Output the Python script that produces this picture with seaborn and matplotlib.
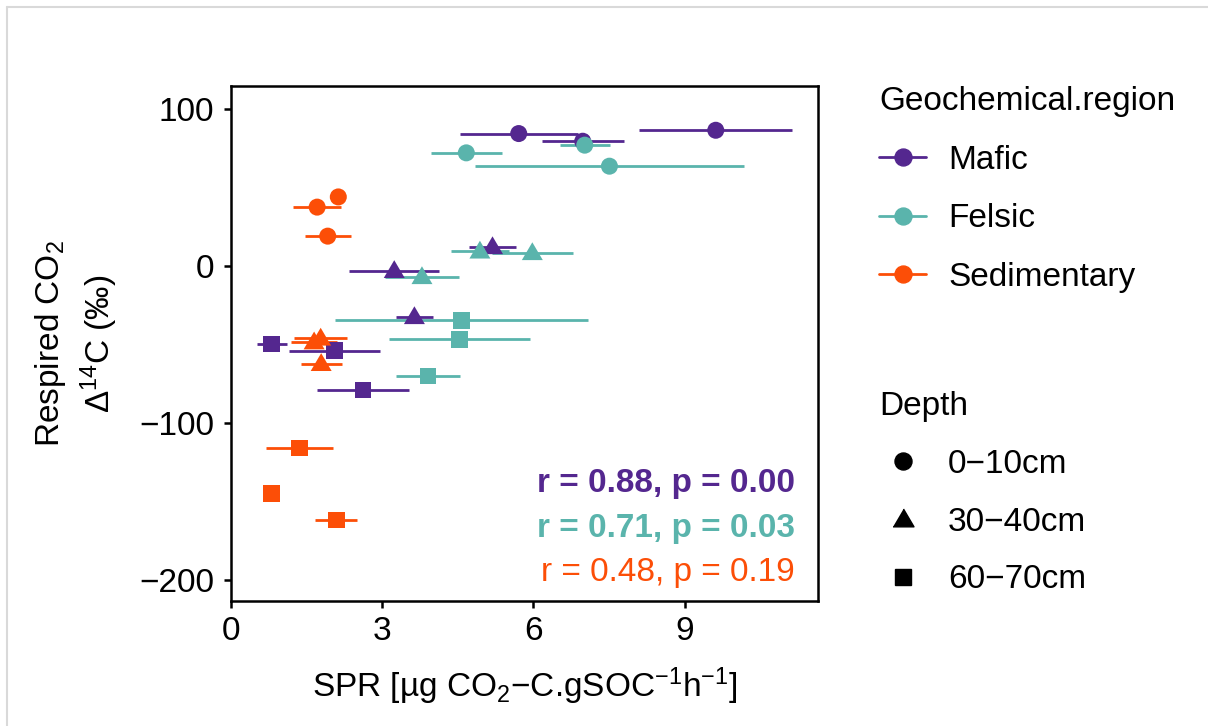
import numpy as np
import pandas as pd
import matplotlib.pyplot as plt
import seaborn as sns
from matplotlib.lines import Line2D

# values
regions = ['Mafic', 'Felsic', 'Sedimentary']
depths = ['0\u221210cm', '30\u221240cm', '60\u221270cm']
region = ['Mafic'] * 9 + ['Felsic'] * 9 + ['Sedimentary'] * 9
depth = ([depths[0]] * 3 + [depths[1]] * 3 + [depths[2]] * 3) * 3
spr = [9.62, 5.71, 6.98, 5.19, 3.24, 3.64, 0.81, 2.05, 2.62,
       7.02, 4.67, 7.51, 5.98, 4.94, 3.79, 4.57, 4.54, 3.91,
       1.71, 2.13, 1.92, 1.65, 1.78, 1.79, 1.36, 0.81, 2.09]
spr_se = [1.52, 1.17, 0.81, 0.46, 0.89, 0.36, 0.30, 0.90, 0.91,
          0.50, 0.71, 2.67, 0.81, 0.58, 0.73, 2.51, 1.40, 0.64,
          0.47, 0.00, 0.46, 0.45, 0.52, 0.41, 0.67, 0.00, 0.42]
d14c = [86.6, 84.5, 79.6, 12.3, -2.9, -32.3, -49.7, -53.9, -79.0,
        77.1, 72.2, 63.7, 8.5, 9.5, -6.8, -34.6, -46.7, -70.1,
        37.6, 44.1, 19.1, -48.4, -46.0, -62.2, -116.0, -144.8, -161.8]
stat_labels = ['r = 0.88, p = 0.00', 'r = 0.71, p = 0.03', 'r = 0.48, p = 0.19']
stat_weights = ['bold', 'bold', 'normal']

df = pd.DataFrame({'region': region, 'depth': depth, 'spr': spr,
                   'se': spr_se, 'd14c': d14c})

pal = {'Mafic': '#54278F', 'Felsic': '#5AB4AC', 'Sedimentary': '#FC4E07'}
tri = [(-1, -0.7), (1, -0.7), (0, 1)]
marks = {depths[0]: 'o', depths[1]: tri, depths[2]: 's'}
sizes = {depths[0]: 150, depths[1]: 228, depths[2]: 144}
fs = 24

sns.set_style('white')
plt.rcParams['font.family'] = ['Liberation Sans', 'DejaVu Sans']
plt.rcParams['text.color'] = 'black'
plt.rcParams['axes.labelcolor'] = 'black'
plt.rcParams['mathtext.fontset'] = 'custom'
plt.rcParams['mathtext.rm'] = 'Liberation Sans'
plt.rcParams['mathtext.it'] = 'Liberation Sans:italic'
plt.rcParams['mathtext.bf'] = 'Liberation Sans:bold'

fig = plt.figure(figsize=(12.08, 7.26), dpi=100)
ax = fig.add_axes([0.1912, 0.1722, 0.4860, 0.7093])

for reg in regions:
    sub = df[df['region'] == reg]
    ax.errorbar(sub['spr'], sub['d14c'], xerr=sub['se'], fmt='none',
                ecolor=pal[reg], elinewidth=2.0, capsize=0, zorder=2)

sns.scatterplot(data=df, x='spr', y='d14c', hue='region', hue_order=regions,
                style='depth', style_order=depths, markers=marks,
                size='depth', sizes=sizes, palette=pal, linewidth=0,
                alpha=1, legend=False, ax=ax, zorder=3)

ax.set_xlim(0, 11.65)
ax.set_ylim(-213.5, 114.8)
ax.set_xticks([0, 3, 6, 9])
ax.set_yticks([-200, -100, 0, 100])
for s in ax.spines.values():
    s.set_color('black')
    s.set_linewidth(1.8)
ax.tick_params(direction='out', length=5, width=1.8, labelsize=fs,
               colors='black', left=True, bottom=True)
ax.tick_params(axis='y', pad=7)
ax.tick_params(axis='x', pad=6)

ax.set_xlabel('SPR [\u00b5g CO$_2$\u2212C.gSOC$^{\u22121}$h$^{\u22121}$]',
              fontsize=fs, labelpad=13)
ax.set_ylabel('Respired CO$_2$\n\u0394$^{14}$C (\u2030)', fontsize=fs,
              labelpad=14, linespacing=1.33)

for lab, w, reg, yy in zip(stat_labels, stat_weights, regions, [0.228, 0.140, 0.056]):
    ax.text(0.961, yy, lab, transform=ax.transAxes, ha='right', va='center',
            fontsize=fs, fontweight=w, color=pal[reg])

reg_handles = [Line2D([], [], color=pal[r], marker='o', markersize=12.2, lw=2)
               for r in regions]
leg1 = fig.legend(reg_handles, regions, title='Geochemical.region',
                  loc='upper left', bbox_to_anchor=(0.728, 0.8815),
                  frameon=False, fontsize=fs, title_fontsize=fs,
                  handlelength=1.4, handletextpad=0.66, labelspacing=0.83,
                  borderpad=0, borderaxespad=0, alignment='left')

dep_handles = [Line2D([], [], color='black', marker=marks[d], linestyle='none',
                      markersize=np.sqrt(sizes[d])) for d in depths]
leg2 = fig.legend(dep_handles, depths, title='Depth', loc='upper left',
                  bbox_to_anchor=(0.728, 0.461), frameon=False, fontsize=fs,
                  title_fontsize=fs, handlelength=1.4, handletextpad=0.66,
                  labelspacing=0.8, borderpad=0, borderaxespad=0,
                  alignment='left')

# light frame of the original screenshot
fig.add_artist(Line2D([7 / 1208, 7 / 1208], [0, 1 - 7 / 726],
                      transform=fig.transFigure, color='#d9d9d9', lw=1.5))
fig.add_artist(Line2D([7 / 1208, 1], [1 - 7 / 726, 1 - 7 / 726],
                      transform=fig.transFigure, color='#d9d9d9', lw=1.5))

fig.savefig('out.png', dpi=100)
